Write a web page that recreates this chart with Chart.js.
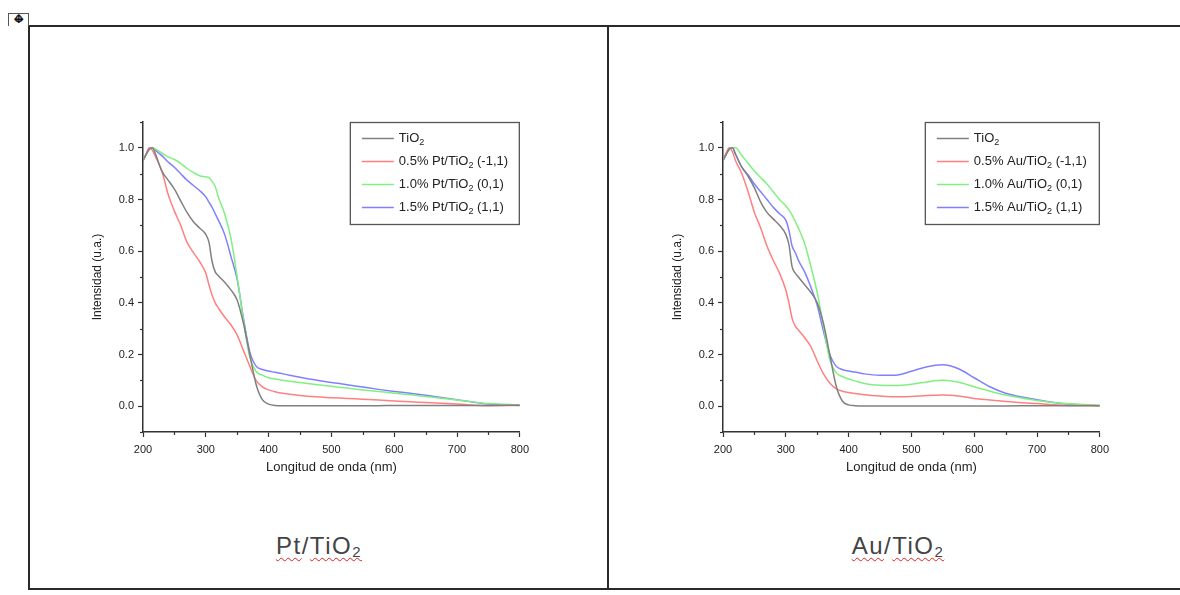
<!DOCTYPE html>
<html>
<head>
  <title>Pt/TiO2 y Au/TiO2 - UV-Vis</title>
  <script src="https://cdn.jsdelivr.net/npm/chart.js"></script>
  <style>
    body { margin: 0; background: #fff; font-family: "Liberation Sans", Arial, sans-serif; width: 1180px; height: 595px; overflow: hidden; position: relative; }
    .frame { position: absolute; left: 28px; top: 25px; width: 1200px; height: 561px; border: 2px solid #2a2a2a; }
    .divider { position: absolute; left: 607px; top: 25px; width: 2px; height: 564px; background: #2a2a2a; }
    .handle { position: absolute; left: 8px; top: 13px; width: 19px; height: 12px; border: 1px solid #555; border-bottom: none; }
    .handle span { position: absolute; left: 0; right: 0; top: -1px; text-align: center; font-family: "DejaVu Sans", sans-serif; font-size: 12px; line-height: 13px; color: #111; font-weight: bold; }
    canvas { position: absolute; }
    .caption { position: absolute; top: 531px; width: 578px; text-align: center; font-size: 24px; line-height: 30px; color: #444; letter-spacing: 1.5px; }
    .caption .sp { text-decoration: underline wavy #e02020; text-decoration-thickness: 1px; text-underline-offset: 3px; }
    .caption sub { font-size: 15px; vertical-align: -3px; }
  </style>
</head>
<body>
  <div class="frame"></div>
  <div class="divider"></div>
  <div class="handle"><span>↔</span><span>↕</span></div>

  <canvas id="ptChart" width="475" height="380" style="left:60px; top:110px;"></canvas>
  <canvas id="auChart" width="475" height="380" style="left:640px; top:110px;"></canvas>

  <div class="caption" style="left:30px;"><span class="sp">Pt</span>/<span class="sp">TiO<sub>2</sub></span></div>
  <div class="caption" style="left:609px;"><span class="sp">Au</span>/<span class="sp">TiO<sub>2</sub></span></div>

  <script>
    // Longitud de onda (nm), common grid for all curves
    const wavelength = [200,205,210,215,220,230,240,250,260,270,280,290,300,305,310,315,320,330,340,350,360,370,380,390,400,410,425,450,475,500,525,550,575,600,625,650,700,750,800];

    // Pt/TiO2 panel
    const ptLabels = ['TiO₂', '0.5% Pt/TiO₂ (-1,1)', '1.0% Pt/TiO₂ (0,1)', '1.5% Pt/TiO₂ (1,1)'];
    const ptTiO2  = [.95,.975,.995,1.0,.975,.91,.875,.84,.795,.75,.715,.69,.665,.635,.56,.52,.505,.48,.45,.41,.32,.20,.085,.025,.008,.003,.002,.002,.002,.002,.002,.002,.002,.003,.003,.003,.003,.003,.004];
    const pt05    = [.95,.975,1.0,.99,.965,.91,.82,.755,.70,.635,.595,.56,.515,.47,.43,.40,.38,.345,.315,.275,.215,.155,.10,.075,.063,.056,.049,.041,.036,.033,.03,.027,.024,.02,.017,.014,.008,.002,.003];
    const pt10    = [.95,.975,.995,1.0,.995,.98,.965,.955,.94,.92,.905,.892,.888,.885,.87,.85,.81,.745,.65,.50,.33,.19,.135,.12,.11,.105,.099,.092,.084,.077,.07,.063,.057,.05,.044,.037,.024,.01,.005];
    const pt15    = [.95,.975,.995,1.0,.99,.97,.945,.925,.90,.875,.855,.835,.81,.79,.77,.745,.72,.665,.58,.49,.34,.21,.155,.142,.136,.131,.124,.112,.101,.092,.083,.074,.065,.057,.05,.042,.025,.008,.003];

    // Au/TiO2 panel
    const auLabels = ['TiO₂', '0.5% Au/TiO₂ (-1,1)', '1.0% Au/TiO₂ (0,1)', '1.5% Au/TiO₂ (1,1)'];
    const auTiO2  = [.95,.975,.995,1.0,.975,.925,.89,.845,.79,.75,.725,.70,.665,.625,.54,.515,.50,.47,.44,.40,.32,.20,.08,.02,.005,.002,.001,.001,.001,.001,.001,.001,.001,.001,.001,.001,.002,.002,.002];
    const au05    = [.95,.98,1.0,.985,.95,.90,.83,.75,.69,.62,.565,.515,.45,.40,.34,.31,.295,.265,.23,.175,.125,.09,.068,.058,.053,.049,.044,.039,.036,.037,.041,.043,.039,.03,.024,.018,.01,.003,.002];
    const au10    = [.95,.975,.995,1.0,1.0,.97,.94,.91,.885,.86,.83,.80,.775,.76,.74,.715,.69,.63,.54,.44,.31,.18,.13,.115,.105,.098,.088,.081,.080,.085,.094,.10,.093,.075,.058,.043,.022,.009,.004];
    const au15    = [.95,.975,.995,1.0,.975,.925,.895,.86,.83,.80,.77,.745,.72,.68,.62,.595,.565,.52,.46,.39,.29,.20,.155,.142,.136,.132,.125,.12,.12,.135,.153,.16,.145,.11,.075,.05,.025,.008,.002];

    const lineColors = ['#808080', '#ff8080', '#80f080', '#8080ff'];
    const FONT = '"Liberation Sans", Arial, sans-serif';

    const isMajorX = v => v % 100 === 0;
    const isMajorY = v => Math.round(v * 10) % 2 === 0;

    // short minor ticks (Origin style)
    const minorTicks = {
      id: 'minorTicks',
      afterDraw(chart) {
        const { ctx, chartArea, scales } = chart;
        ctx.save();
        ctx.strokeStyle = '#333';
        ctx.lineWidth = 1.2;
        scales.x.ticks.forEach((t, i) => {
          if (isMajorX(t.value)) return;
          const px = Math.round(scales.x.getPixelForTick(i)) + 0.5;
          ctx.beginPath(); ctx.moveTo(px, chartArea.bottom); ctx.lineTo(px, chartArea.bottom + 3); ctx.stroke();
        });
        scales.y.ticks.forEach((t, i) => {
          if (isMajorY(t.value)) return;
          const py = Math.round(scales.y.getPixelForTick(i)) + 0.5;
          ctx.beginPath(); ctx.moveTo(chartArea.left - 3, py); ctx.lineTo(chartArea.left, py); ctx.stroke();
        });
        ctx.restore();
      }
    };

    // boxed legend in the upper right corner of the plot
    function drawLabel(ctx, text, x, y) {
      const parts = text.split('₂');
      ctx.font = '13px ' + FONT;
      ctx.fillText(parts[0], x, y);
      x += ctx.measureText(parts[0]).width;
      if (parts.length > 1) {
        ctx.font = '9px ' + FONT;
        ctx.fillText('2', x, y + 4);
        x += ctx.measureText('2').width;
        ctx.font = '13px ' + FONT;
        ctx.fillText(parts[1], x, y);
      }
    }
    const boxLegend = {
      id: 'boxLegend',
      afterDatasetsDraw(chart, args, opts) {
        const { ctx, chartArea } = chart;
        const w = opts.width, h = 103;
        const x0 = chartArea.right - w, y0 = chartArea.top;
        ctx.save();
        ctx.fillStyle = '#fff';
        ctx.fillRect(x0, y0, w, h);
        ctx.strokeStyle = '#555';
        ctx.lineWidth = 1.3;
        ctx.strokeRect(x0 + 0.5, y0 + 0.5, w - 1, h - 1);
        ctx.textBaseline = 'middle';
        ctx.fillStyle = '#222';
        chart.data.datasets.forEach((ds, i) => {
          const y = y0 + 16.5 + i * 23;
          ctx.strokeStyle = ds.borderColor;
          ctx.lineWidth = 1.5;
          ctx.beginPath(); ctx.moveTo(x0 + 12, y); ctx.lineTo(x0 + 44, y); ctx.stroke();
          drawLabel(ctx, ds.label, x0 + 49, y);
        });
        ctx.restore();
      }
    };

    function buildChart(id, labels, series, legendWidth) {
      return new Chart(document.getElementById(id), {
        type: 'line',
        data: {
          datasets: series.map((s, i) => ({
            label: labels[i],
            data: wavelength.map((x, j) => ({ x: x, y: s[j] })),
            borderColor: lineColors[i],
            borderWidth: 1.5,
            pointRadius: 0,
            cubicInterpolationMode: 'monotone'
          }))
        },
        options: {
          responsive: false,
          animation: false,
          layout: { padding: { top: 12, right: 6, left: 0, bottom: 0 } },
          plugins: { legend: { display: false }, tooltip: { enabled: false }, boxLegend: { width: legendWidth } },
          scales: {
            x: {
              type: 'linear', min: 200, max: 800,
              ticks: { stepSize: 50, autoSkip: false, maxRotation: 0, padding: 6, color: '#222', font: { size: 11, family: FONT },
                       callback: v => isMajorX(v) ? String(v) : '' },
              grid: { drawOnChartArea: false, tickLength: 5, tickWidth: 1.2,
                      tickColor: c => isMajorX(c.tick.value) ? '#333' : 'rgba(0,0,0,0)' },
              border: { color: '#333', width: 1.5 },
              title: { display: true, text: 'Longitud de onda (nm)', color: '#222', font: { size: 13, family: FONT }, padding: { top: 0, bottom: 15 } },
              afterFit: s => { s.height = 58; }
            },
            y: {
              min: -0.1, max: 1.1,
              ticks: { stepSize: 0.1, autoSkip: false, padding: 4, color: '#222', font: { size: 11, family: FONT },
                       callback: v => isMajorY(v) ? v.toFixed(1) : '' },
              grid: { drawOnChartArea: false, tickLength: 5, tickWidth: 1.2,
                      tickColor: c => isMajorY(c.tick.value) ? '#333' : 'rgba(0,0,0,0)' },
              border: { color: '#333', width: 1.5 },
              title: { display: true, text: 'Intensidad (u.a.)', color: '#222', font: { size: 12, family: FONT }, padding: { top: 30, bottom: 0 } },
              afterFit: s => { s.width = 83; }
            }
          }
        },
        plugins: [minorTicks, boxLegend]
      });
    }

    buildChart('ptChart', ptLabels, [ptTiO2, pt05, pt10, pt15], 170);
    buildChart('auChart', auLabels, [auTiO2, au05, au10, au15], 175);
  </script>
</body>
</html>
